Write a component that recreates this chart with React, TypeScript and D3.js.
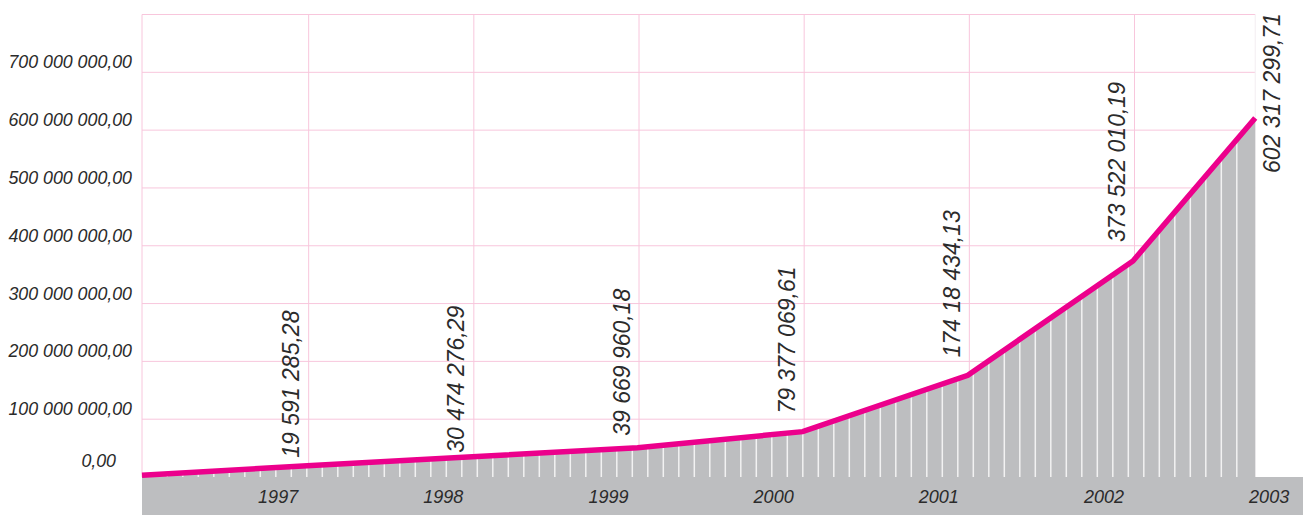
import React from 'react';
import * as d3 from 'd3';

// periods (x, in years) and cumulative amounts
const periods = [1996, 1997, 1998, 1999, 2000, 2001, 2002, 2002.74];
const amounts = [3e6, 19.6e6, 35e6, 50.5e6, 78.5e6, 176e6, 373.7e6, 621e6];

// value labels printed along the line
const valueLabels = [
  '19 591 285,28',
  '30 474 276,29',
  '39 669 960,18',
  '79 377 069,61',
  '174 18 434,13',
  '373 522 010,19',
  '602 317 299,71',
];

const years = [1997, 1998, 1999, 2000, 2001, 2002, 2003];
const yTicks = [0, 100e6, 200e6, 300e6, 400e6, 500e6, 600e6, 700e6];
const yTickLabels = [
  '0,00',
  '100 000 000,00',
  '200 000 000,00',
  '300 000 000,00',
  '400 000 000,00',
  '500 000 000,00',
  '600 000 000,00',
  '700 000 000,00',
];

const W = 1303;
const H = 515;
const FONT = '"Liberation Sans", Arial, Helvetica, sans-serif';
const PINK = '#f8c6dc';
const GREY = '#bdbec0';
const MAGENTA = '#ec008c';

// small per-label gaps above the line (text placement only)
const labelGap = [8, 4, 12, 18, 18, 19];

const App = () => {
  const x = d3.scaleLinear().domain([1996, 2002]).range([142, 1133]);
  const y = d3.scaleLinear().domain([0, 800e6]).range([477, 14.5]);

  const xLeft = x(periods[0]);
  const xRight = x(periods[periods.length - 1]);

  const pts = periods.map((p, i) => ({ p, v: amounts[i] }));

  const area = d3.area<{ p: number; v: number }>()
    .x(d => x(d.p))
    .y0(y(0))
    .y1(d => y(d.v));

  const line = d3.line<{ p: number; v: number }>()
    .x(d => x(d.p))
    .y(d => y(d.v));

  const stripes = d3.range(xLeft + 9.8, xRight - 4, 15.5);

  return (
    <svg width={W} height={H} style={{ position: 'absolute', left: 0, top: 0, display: 'block' }}>
      <defs>
        <clipPath id="areaClip">
          <path d={area(pts) || ''} />
        </clipPath>
      </defs>

      {/* grid */}
      <g>
        {[...yTicks, 800e6].map(t => (
          <line key={'h' + t} x1={xLeft} x2={xRight} y1={y(t)} y2={y(t)} stroke={PINK} strokeWidth={1} />
        ))}
        <line x1={xLeft} x2={xLeft} y1={y(800e6)} y2={y(0)} stroke={PINK} strokeWidth={1} />
        {years.slice(0, 6).map(yr => (
          <line key={'v' + yr} x1={x(yr) + 1.5} x2={x(yr) + 1.5} y1={y(800e6)} y2={y(0)} stroke={PINK} strokeWidth={1} />
        ))}
        <line x1={xRight} x2={xRight} y1={y(800e6)} y2={y(0)} stroke="#f3eef1" strokeWidth={1} />
      </g>

      {/* grey area with white stripes */}
      <path d={area(pts) || ''} fill={GREY} />
      <g clipPath="url(#areaClip)">
        {stripes.map((sx, i) => (
          <line key={i} x1={sx} x2={sx} y1={y(800e6)} y2={y(0)} stroke="#f2f2f2" strokeWidth={1.5} />
        ))}
      </g>

      {/* bottom band */}
      <rect x={xLeft} y={y(0)} width={W - xLeft} height={H - y(0)} fill={GREY} />

      {/* line */}
      <path d={line(pts) || ''} fill="none" stroke={MAGENTA} strokeWidth={5.5} strokeLinejoin="miter" />

      {/* y-axis labels */}
      <g fontFamily={FONT} fontStyle="italic" fontSize={17.8} fill="#2b2b2b" textAnchor="end">
        {yTicks.map((t, i) =>
          t === 0 ? (
            <text key={i} x={116} y={y(0) - 10}>{yTickLabels[i]}</text>
          ) : (
            <text key={i} x={132} y={y(t) - 4}>{yTickLabels[i]}</text>
          )
        )}
      </g>

      {/* year labels */}
      <g fontFamily={FONT} fontStyle="italic" fontSize={18} fill="#2b2b2b" textAnchor="end">
        {years.map(yr => (
          <text key={yr} x={x(yr) - 9} y={503}>{yr}</text>
        ))}
      </g>

      {/* value labels */}
      <g fontFamily={FONT} fontStyle="italic" fontSize={23} fill="#2b2b2b" textAnchor="start">
        {valueLabels.map((lab, i) => {
          const last = i === valueLabels.length - 1;
          const px = last ? xRight + 25 : x(years[i]) - 8;
          const py = last ? y(amounts[amounts.length - 1]) + 55 : y(amounts[i + 1]) - labelGap[i];
          return (
            <text key={i} transform={`translate(${px},${py}) rotate(-90)`}>{lab}</text>
          );
        })}
      </g>
    </svg>
  );
};

export default App;
